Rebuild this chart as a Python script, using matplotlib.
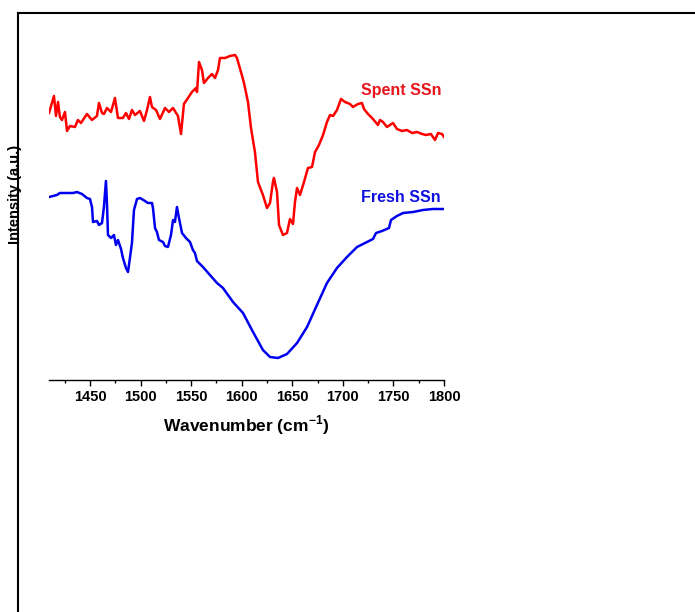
#!/usr/bin/env python3

import numpy as np
import matplotlib
matplotlib.use("Agg")
import matplotlib.pyplot as plt
from matplotlib.lines import Line2D

plt.rcParams['font.family'] = ['Liberation Sans', 'DejaVu Sans']
plt.rcParams['font.weight'] = 'bold'
plt.rcParams['mathtext.fontset'] = 'custom'
plt.rcParams['mathtext.rm'] = 'Liberation Sans:bold'
plt.rcParams['mathtext.bf'] = 'Liberation Sans:bold'

### data (arbitrary intensity units) ###

spent_wn = [1409.5, 1414.4, 1416.4, 1418.4, 1420.3, 1422.3, 1425.3, 1427.3, 1430.2, 1435.2,
            1438.1, 1441.1, 1447.0, 1452.0, 1456.9, 1458.9, 1461.9, 1463.8, 1466.8, 1470.8,
            1474.7, 1477.7, 1482.6, 1485.6, 1488.6, 1491.5, 1494.5, 1499.4, 1503.4, 1506.4,
            1509.3, 1511.3, 1515.3, 1519.2, 1524.2, 1528.1, 1532.1, 1537.0, 1540.0, 1542.9,
            1546.9, 1550.8, 1554.8, 1555.8, 1557.8, 1560.7, 1562.7, 1566.7, 1570.6, 1573.6,
            1576.6, 1578.5, 1583.5, 1588.4, 1593.4, 1595.3, 1599.3, 1602.3, 1606.2, 1609.2,
            1613.1, 1616.1, 1621.0, 1625.0, 1628.0, 1630.9, 1631.9, 1634.9, 1636.9, 1640.8,
            1644.8, 1647.7, 1650.7, 1652.7, 1654.7, 1657.6, 1661.6, 1665.5, 1669.5, 1672.5,
            1676.4, 1680.4, 1684.3, 1687.3, 1690.3, 1694.2, 1698.2, 1702.1, 1707.1, 1710.0,
            1715.0, 1718.9, 1720.9, 1724.9, 1729.8, 1734.7, 1736.7, 1739.7, 1743.6, 1749.6,
            1753.5, 1758.5, 1763.4, 1768.4, 1773.3, 1778.3, 1782.2, 1787.1, 1791.1, 1794.1,
            1798.0, 1800.0]
spent_int = [2.67, 2.84, 2.64, 2.78, 2.63, 2.60, 2.68, 2.49, 2.54, 2.53,
             2.60, 2.57, 2.66, 2.60, 2.64, 2.77, 2.67, 2.66, 2.72, 2.68,
             2.82, 2.62, 2.62, 2.67, 2.61, 2.70, 2.65, 2.69, 2.59, 2.70,
             2.83, 2.73, 2.70, 2.61, 2.72, 2.68, 2.72, 2.64, 2.46, 2.76,
             2.82, 2.88, 2.92, 2.88, 3.18, 3.10, 2.97, 3.02, 3.06, 3.02,
             3.10, 3.22, 3.22, 3.24, 3.25, 3.22, 3.08, 2.97, 2.78, 2.52,
             2.28, 1.98, 1.85, 1.72, 1.77, 1.98, 2.02, 1.88, 1.55, 1.45,
             1.47, 1.61, 1.56, 1.78, 1.92, 1.85, 1.98, 2.12, 2.13, 2.28,
             2.35, 2.45, 2.58, 2.65, 2.64, 2.70, 2.81, 2.78, 2.76, 2.73,
             2.76, 2.77, 2.71, 2.66, 2.61, 2.55, 2.60, 2.58, 2.53, 2.57,
             2.51, 2.49, 2.50, 2.47, 2.48, 2.46, 2.45, 2.46, 2.40, 2.47,
             2.46, 2.43]

fresh_wn = [1409.5, 1417.4, 1420.3, 1427.3, 1433.2, 1437.1, 1442.1, 1447.0, 1450.0, 1452.0,
            1453.0, 1456.9, 1458.9, 1461.9, 1463.8, 1465.8, 1466.8, 1467.8, 1470.8, 1473.7,
            1475.7, 1477.7, 1480.7, 1482.6, 1485.6, 1487.6, 1489.5, 1491.5, 1493.5, 1496.5,
            1499.4, 1504.4, 1507.3, 1511.3, 1512.3, 1514.3, 1516.2, 1518.2, 1522.2, 1524.2,
            1527.1, 1530.1, 1532.1, 1534.0, 1536.0, 1538.0, 1541.0, 1544.9, 1548.9, 1551.8,
            1553.8, 1555.8, 1561.7, 1568.6, 1575.6, 1581.5, 1591.4, 1601.3, 1611.2, 1621.0,
            1628.0, 1635.9, 1644.8, 1654.7, 1664.6, 1674.4, 1684.3, 1694.2, 1704.1, 1714.0,
            1721.9, 1729.8, 1732.8, 1738.7, 1745.6, 1747.6, 1753.5, 1759.5, 1769.4, 1779.2,
            1789.1, 1799.0]
fresh_int = [1.83, 1.85, 1.87, 1.87, 1.87, 1.88, 1.86, 1.82, 1.81, 1.73,
             1.58, 1.59, 1.55, 1.57, 1.73, 1.99, 1.77, 1.45, 1.42, 1.45,
             1.35, 1.40, 1.31, 1.22, 1.12, 1.08, 1.22, 1.37, 1.70, 1.81,
             1.82, 1.79, 1.77, 1.77, 1.72, 1.52, 1.48, 1.40, 1.38, 1.34,
             1.33, 1.45, 1.60, 1.58, 1.73, 1.62, 1.47, 1.42, 1.38, 1.30,
             1.27, 1.19, 1.13, 1.05, 0.97, 0.92, 0.78, 0.67, 0.48, 0.30,
             0.23, 0.22, 0.26, 0.37, 0.53, 0.75, 0.97, 1.12, 1.23, 1.33,
             1.37, 1.41, 1.47, 1.49, 1.52, 1.60, 1.64, 1.67, 1.68, 1.70,
             1.71, 1.71]

xticks = [1450, 1500, 1550, 1600, 1650, 1700, 1750, 1800]

### figure ###

W, H = 695, 612
fig = plt.figure(figsize=(W / 100, H / 100), dpi=100)

def fx(px): return px / W
def fy(py): return 1 - py / H

# axes spans the x axis pixels 49..444, bottom at y=380, top at y=13
ax = fig.add_axes([fx(49), fy(380), fx(444) - fx(49), fy(13) - fy(380)])
ax.plot(spent_wn, spent_int, color='#ff0000', lw=1.8)
ax.plot(fresh_wn, fresh_int, color='#0000ee', lw=1.8)

ax.set_xlim(1409.5, 1800)
ax.set_ylim(0, 3.67)
ax.set_xticks(xticks)
ax.set_xticks(np.arange(1425, 1800, 50), minor=True)
ax.set_yticks([])
for s in ['left', 'top', 'right']:
    ax.spines[s].set_visible(False)
ax.spines['bottom'].set_linewidth(1.0)
ax.tick_params(axis='x', which='major', direction='out', length=4.3, width=1.0,
               labelsize=10.5, pad=3)
ax.tick_params(axis='x', which='minor', direction='out', length=2.2, width=1.0)
for lab in ax.get_xticklabels():
    lab.set_fontweight('bold')
ax.set_xlabel(r'Wavenumber (cm$^{\mathbf{-1}}$)', fontsize=12.5, fontweight='bold', labelpad=6.5)

ax.text(1758, 2.89, 'Spent SSn', color='#e8141c', fontsize=11.5, fontweight='bold',
        ha='center', va='center')
ax.text(1757, 1.83, 'Fresh SSn', color='#1010e0', fontsize=11.5, fontweight='bold',
        ha='center', va='center')

# outer frame pieces (left and top lines)
fig.add_artist(Line2D([fx(18), fx(18)], [fy(13), 0], color='black', lw=1.5))
fig.add_artist(Line2D([fx(18), 1], [fy(13), fy(13)], color='black', lw=1.5))

fig.text(fx(15.5), fy(194), 'Intensity (a.u.)', rotation=90, fontsize=10.5,
         fontweight='bold', ha='center', va='center')

fig.savefig('out.png', dpi=100)
